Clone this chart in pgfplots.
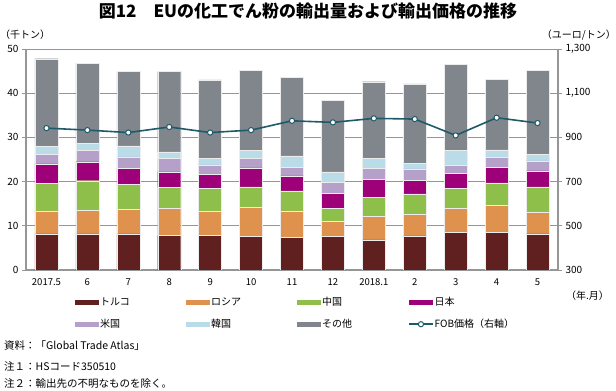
\documentclass[border=0pt]{standalone}
\usepackage{fontspec}
\setmainfont{Noto Sans CJK JP}
\usepackage{pgfplots}
\usepackage{pgfplotstable}
\pgfplotsset{compat=1.18}

\definecolor{cTur}{RGB}{96,32,32}
\definecolor{cRus}{RGB}{222,146,78}
\definecolor{cChn}{RGB}{141,191,74}
\definecolor{cJpn}{RGB}{157,0,120}
\definecolor{cUsa}{RGB}{180,160,200}
\definecolor{cKor}{RGB}{186,220,232}
\definecolor{cOth}{RGB}{128,134,140}
\definecolor{cLine}{RGB}{30,90,105}
\definecolor{cAx}{RGB}{150,150,150}

\pgfplotstableread{
x   T    R    C    J    U    K    O     P
0   8.2  5.2  6.2  4.4  2.1  1.9  19.8  942
1   8.2  5.3  6.7  4.3  2.5  1.6  18.2  933
2   8.2  5.6  5.5  3.7  2.6  2.5  16.8  922
3   7.8  6.2  4.7  3.5  3.0  1.5  18.2  947
4   7.8  5.5  5.2  3.1  2.2  1.4  17.8  922
5   7.6  6.6  4.6  4.3  2.1  1.9  18.1  933
6   7.4  6.0  4.5  3.4  2.0  2.5  17.8  975
7   7.6  3.4  3.0  3.3  2.6  2.3  16.2  968
8   6.8  5.3  4.4  4.0  2.5  2.2  17.4  986
9   7.7  4.9  4.6  3.1  2.6  1.2  18.0  983
10  8.5  5.4  4.5  3.4  1.8  3.4  19.5  909
11  8.5  6.2  5.0  3.6  2.2  1.7  16.0  989
12  8.2  4.9  5.7  3.6  2.3  1.4  19.1  965
}\data

\pgfplotsset{
  barleg/.style={legend image code/.code={\fill[##1,draw=none] (0bp,-2.6bp) rectangle (24bp,2.6bp);}},
}
\newcommand{\lt}[1]{\makebox[85bp][l]{#1}}

\begin{document}
\begin{tikzpicture}
\useasboundingbox (0,0) rectangle (616bp,391bp);
\begin{axis}[
  at={(26bp,121bp)}, anchor=south west,
  scale only axis, width=532bp, height=221bp,
  xmin=-0.5, xmax=12.5, ymin=0, ymax=50,
  ybar stacked, bar width=23bp,
  axis x line*=bottom, axis y line*=left,
  x axis line style={cAx, line width=2bp},
  y axis line style={cAx, line width=1.2bp},
  xtick={0,...,12},
  xticklabels={2017.5,6,7,8,9,10,11,12,2018.1,2,3,4,5},
  xtick style={draw=none},
  minor xtick={-0.5,0.5,...,12.5},
  minor tick length=4bp,
  minor x tick style={cAx, line width=0.8bp},
  ytick={0,10,...,50},
  ytick style={cAx, line width=0.8bp},
  major tick length=4bp,
  tick align=outside,
  ymajorgrids,
  major grid style={cAx, line width=0.9bp},
  /pgf/number format/assume math mode=true,
  xticklabel style={font=\fontsize{9.5bp}{11bp}\selectfont, yshift=-1bp},
  yticklabel style={font=\fontsize{10bp}{12bp}\selectfont},
  every axis plot/.append style={draw=white!85!gray, line width=0.4bp},
  legend columns=4,
  legend style={draw=none, fill=none, inner sep=0pt,
    at={(axis description cs:0.092,-0.118)}, anchor=north west,
    nodes={inner sep=1bp, font=\fontsize{10bp}{12bp}\selectfont},
    /tikz/every even column/.append style={column sep=0pt},
    row sep=10bp},
]
\addplot[fill=cTur, barleg] table[x=x,y=T]{\data};
\addplot[fill=cRus, barleg] table[x=x,y=R]{\data};
\addplot[fill=cChn, barleg] table[x=x,y=C]{\data};
\addplot[fill=cJpn, barleg] table[x=x,y=J]{\data};
\addplot[fill=cUsa, barleg] table[x=x,y=U]{\data};
\addplot[fill=cKor, barleg] table[x=x,y=K]{\data};
\addplot[fill=cOth, barleg] table[x=x,y=O]{\data};
\addlegendimage{legend image code/.code={
  \draw[cLine, line width=1.6bp] (0bp,0bp) -- (24bp,0bp);
  \draw[cLine, line width=1bp, fill=white] (12bp,0bp) circle (2.6bp);}}
\legend{\lt{トルコ},\lt{ロシア},\lt{中国},\lt{日本},\lt{米国},\lt{韓国},\lt{その他},\lt{FOB価格（右軸）}}
\end{axis}
\begin{axis}[
  at={(26bp,121bp)}, anchor=south west,
  scale only axis, width=532bp, height=221bp,
  xmin=-0.5, xmax=12.5, ymin=300, ymax=1300,
  axis x line=none, axis y line*=right,
  y axis line style={cAx, line width=1.2bp},
  ytick={300,500,...,1300},
  ytick style={cAx, line width=0.8bp},
  major tick length=4bp,
  tick align=outside,
  /pgf/number format/assume math mode=true,
  /pgf/number format/1000 sep={,},
  yticklabel style={font=\fontsize{10bp}{12bp}\selectfont},
]
\addplot[cLine, line width=1.6bp, mark=*, mark size=2.6bp,
  mark options={fill=white, draw=cLine, line width=1bp}] table[x=x,y=P]{\data};
\end{axis}
\node[font=\fontsize{17bp}{20bp}\selectfont\bfseries] at (308bp,380bp) {図12　EUの化工でん粉の輸出量および輸出価格の推移};
\node[anchor=west, inner sep=0pt, font=\fontsize{10bp}{12bp}\selectfont] at (0bp,356bp) {（千トン）};
\node[anchor=east, inner sep=0pt, font=\fontsize{10bp}{12bp}\selectfont] at (616bp,356bp) {（ユーロ/トン）};
\node[anchor=west, inner sep=0pt, font=\fontsize{10bp}{12bp}\selectfont] at (566bp,95bp) {（年.月）};
\node[anchor=west, inner sep=0pt, font=\fontsize{10.5bp}{12bp}\selectfont] at (4bp,45bp) {資料：「Global Trade Atlas」};
\node[anchor=west, inner sep=0pt, font=\fontsize{10.5bp}{12bp}\selectfont] at (4bp,25bp) {注１：HSコード350510};
\node[anchor=west, inner sep=0pt, font=\fontsize{10.5bp}{12bp}\selectfont] at (4bp,7bp) {注２：輸出先の不明なものを除く。};
\end{tikzpicture}
\end{document}
